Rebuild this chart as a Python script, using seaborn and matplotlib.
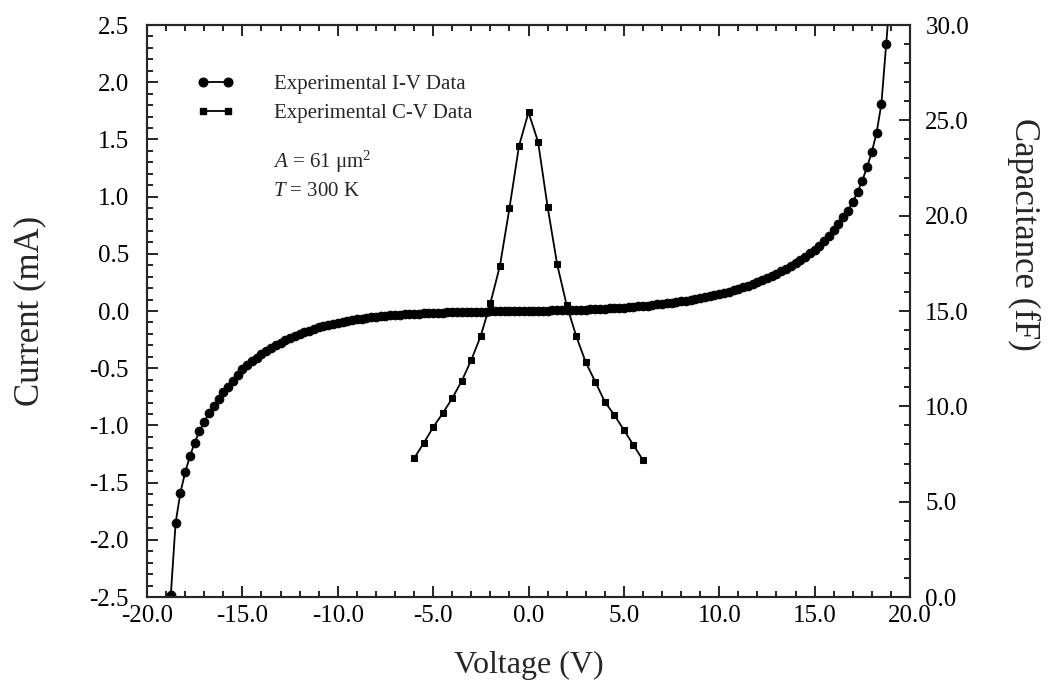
import matplotlib
matplotlib.use("Agg")
import matplotlib.pyplot as plt
from matplotlib.ticker import MultipleLocator, FormatStrFormatter
from matplotlib.lines import Line2D
import seaborn as sns
import pandas as pd

# ---------------- data ----------------
iv_voltage = [
    -18.75, -18.5, -18.25, -18.0, -17.75, -17.5, -17.25, -17.0, -16.75, -16.5, -16.25, -16.0,
    -15.75, -15.5, -15.25, -15.0, -14.75, -14.5, -14.25, -14.0, -13.75, -13.5, -13.25, -13.0,
    -12.75, -12.5, -12.25, -12.0, -11.75, -11.5, -11.25, -11.0, -10.75, -10.5, -10.25, -10.0,
    -9.75, -9.5, -9.25, -9.0, -8.75, -8.5, -8.25, -8.0, -7.75, -7.5, -7.25, -7.0,
    -6.75, -6.5, -6.25, -6.0, -5.75, -5.5, -5.25, -5.0, -4.75, -4.5, -4.25, -4.0,
    -3.75, -3.5, -3.25, -3.0, -2.75, -2.5, -2.25, -2.0, -1.75, -1.5, -1.25, -1.0,
    -0.75, -0.5, -0.25,
    0.0, 0.25, 0.5, 0.75, 1.0, 1.25, 1.5, 1.75, 2.0, 2.25, 2.5, 2.75,
    3.0, 3.25, 3.5, 3.75, 4.0, 4.25, 4.5, 4.75, 5.0, 5.25, 5.5, 5.75,
    6.0, 6.25, 6.5, 6.75, 7.0, 7.25, 7.5, 7.75, 8.0, 8.25, 8.5, 8.75,
    9.0, 9.25, 9.5, 9.75, 10.0, 10.25, 10.5, 10.75, 11.0, 11.25, 11.5, 11.75,
    12.0, 12.25, 12.5, 12.75, 13.0, 13.25, 13.5, 13.75, 14.0, 14.25, 14.5, 14.75,
    15.0, 15.25, 15.5, 15.75, 16.0, 16.25, 16.5, 16.75, 17.0, 17.25, 17.5, 17.75,
    18.0, 18.25, 18.5, 18.75, 19.0,
]
iv_current = [
    -2.48, -1.85, -1.59, -1.41, -1.27, -1.15, -1.05, -0.97, -0.89, -0.83, -0.77, -0.71,
    -0.66, -0.61, -0.56, -0.51, -0.475, -0.44, -0.41, -0.38, -0.352, -0.326, -0.30, -0.278,
    -0.257, -0.237, -0.219, -0.202, -0.186, -0.171, -0.157, -0.144, -0.132, -0.121, -0.111, -0.102,
    -0.093, -0.086, -0.079, -0.072, -0.066, -0.061, -0.056, -0.051, -0.047, -0.043, -0.039, -0.036,
    -0.033, -0.030, -0.027, -0.025, -0.023, -0.021, -0.019, -0.017, -0.016, -0.014, -0.013, -0.012,
    -0.011, -0.010, -0.009, -0.008, -0.007, -0.006, -0.005, -0.004, -0.0035, -0.003, -0.002, -0.0015,
    -0.001, -0.0005, 0.0,
    0.0, 0.001, 0.002, 0.003, 0.004, 0.005, 0.006, 0.007, 0.008, 0.009, 0.010, 0.011,
    0.013, 0.014, 0.016, 0.018, 0.020, 0.022, 0.024, 0.027, 0.030, 0.033, 0.036, 0.040,
    0.044, 0.048, 0.052, 0.057, 0.062, 0.067, 0.072, 0.078, 0.084, 0.091, 0.098, 0.105,
    0.113, 0.121, 0.130, 0.139, 0.149, 0.159, 0.170, 0.182, 0.194, 0.207, 0.221, 0.236,
    0.252, 0.269, 0.287, 0.306, 0.326, 0.347, 0.370, 0.394, 0.420, 0.447, 0.475, 0.504,
    0.535, 0.570, 0.612, 0.658, 0.708, 0.760, 0.818, 0.877, 0.955, 1.04, 1.14, 1.26,
    1.39, 1.56, 1.81, 2.33, 2.85,
]

cv_voltage = [-6.0, -5.5, -5.0, -4.5, -4.0, -3.5, -3.0, -2.5, -2.0, -1.5, -1.0, -0.5, 0.0,
              0.5, 1.0, 1.5, 2.0, 2.5, 3.0, 3.5, 4.0, 4.5, 5.0, 5.5, 6.0]
cv_capacitance = [7.27, 8.06, 8.90, 9.63, 10.42, 11.33, 12.43, 13.70, 15.40, 17.36, 20.38, 23.65, 25.42,
                  23.88, 20.47, 17.46, 15.31, 13.69, 12.31, 11.29, 10.24, 9.54, 8.76, 7.97, 7.18]

legend_labels = ["Experimental I-V Data", "Experimental C-V Data"]
annotations = [r"$\mathit{A}$ = 61 μm$^{2}$", r"$\mathit{T}$ = 300 K"]

# ---------------- style ----------------
sns.set_theme(style="ticks")
plt.rcParams["font.family"] = ["Liberation Serif", "DejaVu Serif"]
plt.rcParams["mathtext.fontset"] = "custom"
plt.rcParams["mathtext.rm"] = "Liberation Serif"
plt.rcParams["mathtext.it"] = "Liberation Serif:italic"
plt.rcParams["axes.unicode_minus"] = False
plt.rcParams["axes.linewidth"] = 1.5

fig = plt.figure(figsize=(10.5, 6.81), dpi=100)
ax = fig.add_axes([147 / 1050, 1 - 597 / 681, (910 - 147) / 1050, (597 - 25) / 681])
ax2 = ax.twinx()

df_iv = pd.DataFrame({"V": iv_voltage, "I": iv_current})
df_cv = pd.DataFrame({"V": cv_voltage, "C": cv_capacitance})

iv_ms, cv_ms, lw = 6.2, 4.2, 1.3
sns.lineplot(data=df_iv, x="V", y="I", ax=ax, color="black", marker="o", markersize=iv_ms,
             markeredgecolor="black", linewidth=lw, legend=False, sort=False, errorbar=None)
sns.lineplot(data=df_cv, x="V", y="C", ax=ax2, color="black", marker="s", markersize=cv_ms,
             markeredgecolor="black", linewidth=lw, legend=False, sort=False, errorbar=None)

ax.set_xlim(-20, 20)
ax.set_ylim(-2.5, 2.5)
ax2.set_ylim(0, 30)

ax.xaxis.set_major_locator(MultipleLocator(5))
ax.xaxis.set_minor_locator(MultipleLocator(1))
ax.yaxis.set_major_locator(MultipleLocator(0.5))
ax.yaxis.set_minor_locator(MultipleLocator(0.1))
ax2.yaxis.set_major_locator(MultipleLocator(5))
ax2.yaxis.set_minor_locator(MultipleLocator(1))
for a in (ax.xaxis, ax.yaxis, ax2.yaxis):
    a.set_major_formatter(FormatStrFormatter("%.1f"))

tick_fs = 18
ax.tick_params(axis="x", which="both", direction="in", top=True, bottom=True,
               labelsize=tick_fs, pad=6, colors="black", width=1.2)
ax.tick_params(axis="y", which="both", direction="in", left=True, right=False,
               labelsize=tick_fs, pad=13, colors="black", width=1.2)
ax2.tick_params(axis="y", which="both", direction="in", right=True, left=False,
                labelsize=tick_fs, pad=11, colors="black", width=1.2)
for a in (ax, ax2):
    a.tick_params(which="major", length=8)
    a.tick_params(which="minor", length=4.5)
for s in ax2.spines.values():
    s.set_linewidth(1.5)

ax.set_xlabel("Voltage (V)", fontsize=23)
ax.xaxis.set_label_coords(0.5, (597 - 665) / 572)
ax.xaxis.label.set_va("center")
ax.set_ylabel("Current (mA)", fontsize=25)
ax.yaxis.set_label_coords((30 - 147) / 763, 0.5)
ax.yaxis.label.set_va("center")
ax2.set_ylabel("Capacitance (fF)", fontsize=25, rotation=270)
ax2.yaxis.set_label_coords((1024 - 147) / 763, (597 - 234) / 572)
ax2.yaxis.label.set_va("center")

handles = [
    Line2D([], [], color="black", marker="o", markersize=iv_ms, linewidth=lw),
    Line2D([], [], color="black", marker="s", markersize=cv_ms, linewidth=lw),
]
ax2.legend(handles, legend_labels, loc="upper left", bbox_to_anchor=(0.0655, 0.913),
           frameon=False, numpoints=2, fontsize=15, handlelength=1.8, handletextpad=1.9,
           borderpad=0, borderaxespad=0, labelspacing=0.44)

ax.text(0.165, (597 - 162) / 572, annotations[0], transform=ax.transAxes,
        fontsize=15, va="center", ha="left")
ax.text(0.165, (597 - 192) / 572, annotations[1], transform=ax.transAxes,
        fontsize=15, va="center", ha="left")

fig.savefig("out.png", dpi=100)
